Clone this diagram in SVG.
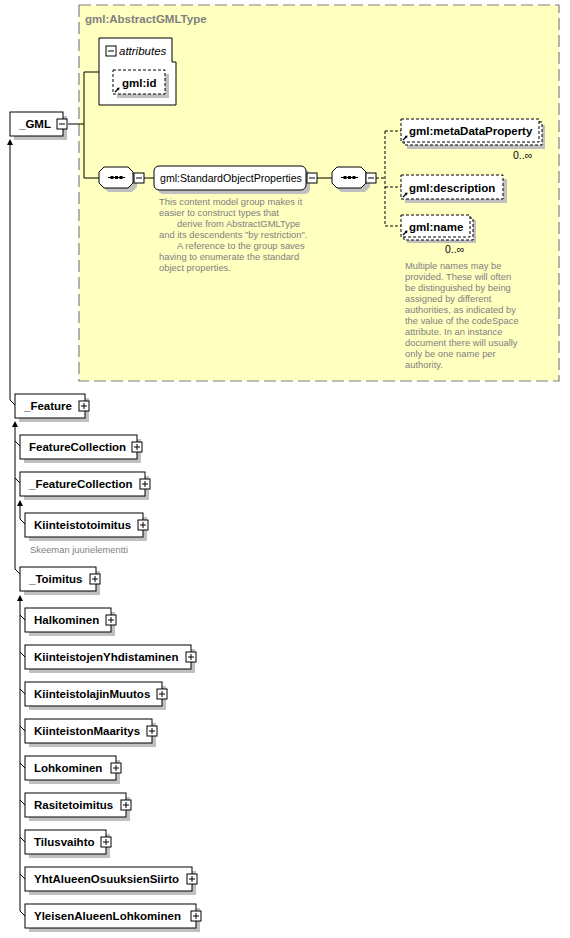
<svg xmlns="http://www.w3.org/2000/svg" xmlns:xlink="http://www.w3.org/1999/xlink" width="570" height="938" viewBox="0 0 570 938">
<style>
.bg{fill:#ffffff}
.type{fill:#ffffc0;stroke:#808080;stroke-width:1.2;stroke-dasharray:12,5}
.title{font-family:"Liberation Sans",Arial,sans-serif;font-size:11.5px;font-weight:bold;fill:#808080}
.shadow{fill:#c0c0c0}
.box{fill:#ffffff;stroke:#000000;stroke-width:1}
.dbox{fill:#ffffff;stroke:#000000;stroke-width:1;stroke-dasharray:3,2}
.lbl{font-family:"Liberation Sans",Arial,sans-serif;font-size:11.5px;font-weight:bold;fill:#000000}
.reg{font-family:"Liberation Sans",Arial,sans-serif;font-size:10.6px;fill:#000000}
.ital{font-family:"Liberation Sans",Arial,sans-serif;font-size:11.5px;font-style:italic;fill:#000000}
.desc{font-family:"Liberation Sans",Arial,sans-serif;font-size:9.4px;fill:#808080}
.mult{font-family:"Liberation Sans",Arial,sans-serif;font-size:10.5px;fill:#000000}
.ln{fill:none;stroke:#000000;stroke-width:1}
.dln{fill:none;stroke:#000000;stroke-width:1;stroke-dasharray:3,2}
.pm{fill:#ffffff;stroke:#000000;stroke-width:1}
</style>
<defs>
<g id="plus"><rect class="pm" x="0" y="0" width="10" height="10"/><path class="ln" d="M2,5 H8 M5,2 V8"/></g>
<g id="minus"><rect class="pm" x="0" y="0" width="10" height="10"/><path class="ln" d="M2,5 H8"/></g>
<g id="refArrow"><path d="M0,0 L3,-3" stroke="#000" stroke-width="1.2"/><polygon points="4.5,-4.5 1.5,-4 4,-1.5" fill="#000"/></g>
<polygon id="arrowUp" points="0,0 -3,6 3,6" fill="#000"/>
<polygon id="oct" points="0,5 5,0 29,0 34,5 34,16 29,21 5,21 0,16"/>
</defs>
<rect class="bg" x="0" y="0" width="570" height="938"/>

<g id="AbstractGMLType">
<rect class="type" x="79" y="5" width="480" height="376"/>
<text class="title" x="85" y="23">gml:AbstractGMLType</text>
</g>

<g id="connectors">
<path class="ln" d="M68,124 H84 M84,72 V178 M84,72 H99 M84,178 H99"/>
<path class="ln" d="M144,178 H154"/>
<path class="ln" d="M317,178 H332"/>
<path class="dln" d="M376,178 H385 M385,131 V226 M385,131 H401 M385,187 H401 M385,226 H401"/>
<path class="ln" d="M10,142 V400 L15,405"/>
<use xlink:href="#arrowUp" x="10" y="139"/>
<path class="ln" d="M15,424 V441 L20,446 M15,441 V478 L20,483 M15,478 V569 L20,574"/>
<use xlink:href="#arrowUp" x="15" y="421"/>
<path class="ln" d="M20,503 V519 L25,524"/>
<use xlink:href="#arrowUp" x="20" y="500"/>
<path class="ln" d="M20,598 V615 L25,620 M20,615 V652 L25,657 M20,652 V689 L25,694 M20,689 V726 L25,731 M20,726 V763 L25,768 M20,763 V800 L25,805 M20,800 V837 L25,842 M20,837 V874 L25,879 M20,874 V911 L25,916"/>
<use xlink:href="#arrowUp" x="20" y="595"/>
</g>

<g id="GML">
<rect class="shadow" x="14" y="116" width="53" height="24"/>
<rect class="box" x="10" y="112" width="53" height="24"/>
<text class="lbl" x="19" y="128">_GML</text>
<use xlink:href="#minus" x="57" y="119"/>
</g>

<g id="attributes">
<path class="box" d="M99,38 H172 V62 H176 V105 H99 Z"/>
<use xlink:href="#minus" x="106" y="46"/>
<text class="ital" x="119" y="55">attributes</text>
</g>

<g id="gml-id">
<rect class="shadow" x="117" y="74" width="52" height="24"/>
<rect class="dbox" x="113" y="70" width="52" height="24"/>
<text class="lbl" x="122" y="87">gml:id</text>
<use xlink:href="#refArrow" x="115" y="92"/>
</g>

<g id="sequence1">
<use xlink:href="#oct" x="103" y="171" fill="#c0c0c0"/>
<use xlink:href="#oct" x="99" y="167" fill="#ffffff" stroke="#000" stroke-width="1"/>
<path class="ln" d="M108,177.5 H125"/>
<rect x="110.5" y="176" width="3" height="3" fill="#000"/>
<rect x="115" y="176" width="3" height="3" fill="#000"/>
<rect x="119.5" y="176" width="3" height="3" fill="#000"/>
<use xlink:href="#minus" x="134" y="173"/>
</g>

<g id="StandardObjectProperties">
<rect class="shadow" x="158" y="170" width="152" height="24" rx="5"/>
<rect class="box" x="154" y="166" width="152" height="24" rx="5"/>
<text class="reg" x="160" y="182">gml:StandardObjectProperties</text>
<use xlink:href="#minus" x="307" y="173"/>
<text class="desc" x="159" y="205">This content model group makes it</text>
<text class="desc" x="159" y="216">easier to construct types that</text>
<text class="desc" x="177" y="227">derive from AbstractGMLType</text>
<text class="desc" x="159" y="238">and its descendents "by restriction".</text>
<text class="desc" x="177" y="249">A reference to the group saves</text>
<text class="desc" x="159" y="260">having to enumerate the standard</text>
<text class="desc" x="159" y="271">object properties.</text>
</g>

<g id="sequence2">
<use xlink:href="#oct" x="336" y="171" fill="#c0c0c0"/>
<use xlink:href="#oct" x="332" y="167" fill="#ffffff" stroke="#000" stroke-width="1"/>
<path class="ln" d="M341,177.5 H358"/>
<rect x="343.5" y="176" width="3" height="3" fill="#000"/>
<rect x="348" y="176" width="3" height="3" fill="#000"/>
<rect x="352.5" y="176" width="3" height="3" fill="#000"/>
<use xlink:href="#minus" x="366" y="173"/>
</g>

<g id="metaDataProperty">
<rect class="shadow" x="407" y="125" width="138" height="24"/>
<rect class="dbox" x="404" y="122" width="138" height="23"/>
<rect class="dbox" x="401" y="119" width="138" height="23"/>
<text class="lbl" x="409" y="135">gml:metaDataProperty</text>
<use xlink:href="#refArrow" x="403" y="140"/>
<text class="mult" x="513" y="159">0..∞</text>
</g>

<g id="description">
<rect class="shadow" x="405" y="179" width="102" height="24"/>
<rect class="dbox" x="401" y="175" width="102" height="24"/>
<text class="lbl" x="409" y="192">gml:description</text>
<use xlink:href="#refArrow" x="403" y="197"/>
</g>

<g id="name">
<rect class="shadow" x="407" y="220" width="69" height="23"/>
<rect class="dbox" x="404" y="218" width="69" height="22"/>
<rect class="dbox" x="401" y="215" width="69" height="22"/>
<text class="lbl" x="409" y="231">gml:name</text>
<use xlink:href="#refArrow" x="403" y="235"/>
<text class="mult" x="445" y="253">0..∞</text>
<text class="desc" x="405" y="269">Multiple names may be</text>
<text class="desc" x="405" y="280">provided.  These will often</text>
<text class="desc" x="405" y="291">be distinguished by being</text>
<text class="desc" x="405" y="302">assigned by different</text>
<text class="desc" x="405" y="313">authorities, as indicated by</text>
<text class="desc" x="405" y="324">the value of the codeSpace</text>
<text class="desc" x="405" y="335">attribute.  In an instance</text>
<text class="desc" x="405" y="346">document there will usually</text>
<text class="desc" x="405" y="357">only be one name per</text>
<text class="desc" x="405" y="368">authority.</text>
</g>

<g id="Feature">
<rect class="shadow" x="19" y="398" width="70" height="24"/>
<rect class="box" x="15" y="394" width="70" height="24"/>
<text class="lbl" x="24" y="410">_Feature</text>
<use xlink:href="#plus" x="79" y="401"/>
</g>

<g id="FeatureCollection">
<rect class="shadow" x="24" y="439" width="117" height="24"/>
<rect class="box" x="20" y="435" width="117" height="24"/>
<text class="lbl" x="29" y="451">FeatureCollection</text>
<use xlink:href="#plus" x="132" y="442"/>
</g>

<g id="_FeatureCollection">
<rect class="shadow" x="24" y="476" width="125" height="24"/>
<rect class="box" x="20" y="472" width="125" height="24"/>
<text class="lbl" x="29" y="488">_FeatureCollection</text>
<use xlink:href="#plus" x="140" y="479"/>
</g>

<g id="Kiinteistotoimitus">
<rect class="shadow" x="29" y="517" width="118" height="24"/>
<rect class="box" x="25" y="513" width="118" height="24"/>
<text class="lbl" x="34" y="529">Kiinteistotoimitus</text>
<use xlink:href="#plus" x="138" y="520"/>
<text class="desc" x="30" y="553">Skeeman juurielementti</text>
</g>

<g id="Toimitus">
<rect class="shadow" x="24" y="571" width="76" height="24"/>
<rect class="box" x="20" y="567" width="76" height="24"/>
<text class="lbl" x="29" y="583">_Toimitus</text>
<use xlink:href="#plus" x="90" y="574"/>
</g>

<g id="Halkominen">
<rect class="shadow" x="29" y="612" width="86" height="24"/>
<rect class="box" x="25" y="608" width="86" height="24"/>
<text class="lbl" x="34" y="624">Halkominen</text>
<use xlink:href="#plus" x="106" y="615"/>
</g>

<g id="KiinteistojenYhdistaminen">
<rect class="shadow" x="29" y="649" width="166" height="24"/>
<rect class="box" x="25" y="645" width="166" height="24"/>
<text class="lbl" x="34" y="661">KiinteistojenYhdistaminen</text>
<use xlink:href="#plus" x="186" y="652"/>
</g>

<g id="KiinteistolajinMuutos">
<rect class="shadow" x="29" y="686" width="137" height="24"/>
<rect class="box" x="25" y="682" width="137" height="24"/>
<text class="lbl" x="34" y="698">KiinteistolajinMuutos</text>
<use xlink:href="#plus" x="157" y="689"/>
</g>

<g id="KiinteistonMaaritys">
<rect class="shadow" x="29" y="723" width="127" height="24"/>
<rect class="box" x="25" y="719" width="127" height="24"/>
<text class="lbl" x="34" y="735">KiinteistonMaaritys</text>
<use xlink:href="#plus" x="147" y="726"/>
</g>

<g id="Lohkominen">
<rect class="shadow" x="29" y="760" width="91" height="24"/>
<rect class="box" x="25" y="756" width="91" height="24"/>
<text class="lbl" x="34" y="772">Lohkominen</text>
<use xlink:href="#plus" x="111" y="763"/>
</g>

<g id="Rasitetoimitus">
<rect class="shadow" x="29" y="797" width="101" height="24"/>
<rect class="box" x="25" y="793" width="101" height="24"/>
<text class="lbl" x="34" y="809">Rasitetoimitus</text>
<use xlink:href="#plus" x="121" y="800"/>
</g>

<g id="Tilusvaihto">
<rect class="shadow" x="29" y="834" width="81" height="24"/>
<rect class="box" x="25" y="830" width="81" height="24"/>
<text class="lbl" x="34" y="846">Tilusvaihto</text>
<use xlink:href="#plus" x="101" y="837"/>
</g>

<g id="YhtAlueenOsuuksienSiirto">
<rect class="shadow" x="29" y="871" width="167" height="24"/>
<rect class="box" x="25" y="867" width="167" height="24"/>
<text class="lbl" x="34" y="883">YhtAlueenOsuuksienSiirto</text>
<use xlink:href="#plus" x="187" y="874"/>
</g>

<g id="YleisenAlueenLohkominen">
<rect class="shadow" x="29" y="908" width="171" height="24"/>
<rect class="box" x="25" y="904" width="171" height="24"/>
<text class="lbl" x="34" y="920">YleisenAlueenLohkominen</text>
<use xlink:href="#plus" x="191" y="911"/>
</g>
</svg>
